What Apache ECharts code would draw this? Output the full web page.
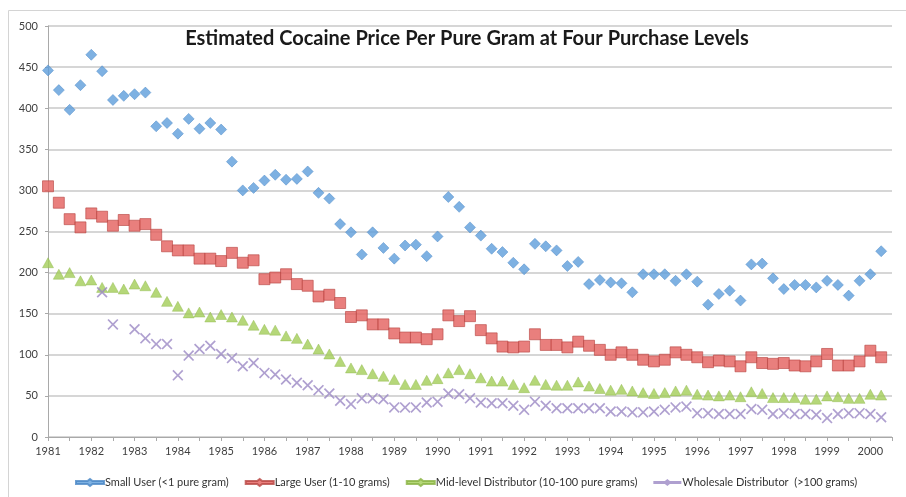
<!DOCTYPE html>
<html>
<head>
<meta charset="utf-8">
<script src="https://cdn.jsdelivr.net/npm/echarts@6/dist/echarts.min.js"></script>
<style>
  html, body { margin: 0; padding: 0; background: #fff; }
  #chart { width: 906px; height: 497px; }
</style>
</head>
<body>
<div id="chart"></div>
<script>
// Quarterly series, first quarter of 1981 through second quarter of 2000 (78 quarters)
const firstYear = 1981;
const seriesNames = [
  'Small User (<1 pure gram)',
  'Large User (1-10 grams)',
  'Mid-level Distributor (10-100 pure grams)',
  'Wholesale Distributor  (>100 grams)'
];

const smallUser = [
  446, 422, 398, 428, 465, 445, 410, 415, 417, 419,
  378, 382, 369, 387, 375, 382, 374, 335, 300, 303,
  312, 319, 313, 314, 323, 297, 290, 259, 249, 222,
  249, 230, 217, 233, 234, 220, 244, 292, 280, 255,
  245, 229, 225, 212, 204, 235, 232, 227, 208, 213,
  186, 191, 188, 187, 176, 198, 198, 198, 190, 198,
  189, 161, 174, 178, 166, 210, 211, 193, 180, 185,
  185, 182, 190, 185, 172, 190, 198, 226
];

const largeUser = [
  305, 285, 265, 255, 272, 268, 257, 264, 257, 259,
  246, 232, 227, 227, 217, 217, 214, 224, 212, 215,
  192, 194, 198, 186, 184, 171, 173, 163, 146, 148,
  137, 137, 126, 121, 121, 119, 125, 148, 141, 147,
  130, 120, 110, 109, 110, 125, 112, 112, 109, 116,
  111, 106, 100, 103, 100, 94, 92, 94, 103, 100,
  97, 91, 93, 92, 86, 97, 90, 89, 90, 87,
  86, 92, 101, 87, 87, 92, 105, 97
];

const midLevel = [
  212, 198, 200, 190, 191, 182, 182, 180, 186, 184,
  176, 165, 159, 151, 152, 146, 149, 146, 142, 136,
  131, 130, 123, 120, 113, 107, 101, 92, 84, 82,
  77, 74, 70, 64, 64, 69, 71, 78, 82, 77,
  72, 68, 68, 64, 60, 69, 64, 63, 63, 67,
  62, 59, 57, 58, 56, 54, 53, 54, 56, 57,
  52, 51, 50, 51, 49, 55, 53, 48, 48, 48,
  46, 46, 50, 49, 47, 47, 52, 51
];

const wholesale = [
  null, null, null, null, null, 176, 137, null, 131, 120,
  113, 113, 75, 99, 107, 111, 101, 96, 86, 90,
  78, 76, 70, 66, 63, 57, 53, 44, 40, 47,
  47, 46, 36, 36, 36, 42, 43, 53, 52, 47,
  42, 41, 41, 38, 33, 43, 38, 35, 35, 35,
  35, 35, 31, 31, 30, 30, 31, 33, 36, 37,
  29, 29, 28, 28, 28, 34, 33, 28, 29, 28,
  28, 27, 23, 28, 29, 29, 28, 24
];

// Pair each quarterly value with its position in years (quarter i -> firstYear + i/4)
function toPoints(values) {
  return values.map((v, i) => [firstYear + i / 4, v]);
}

const xMark = 'path://M0,1.1 L1.1,0 L5,3.9 L8.9,0 L10,1.1 L6.1,5 L10,8.9 L8.9,10 L5,6.1 L1.1,10 L0,8.9 L3.9,5 Z';
const legendIcon = 'path://M0,2.1 L11.5,2.1 L14,0 L16.5,2.1 L28,2.1 L28,4.9 L16.5,4.9 L14,7 L11.5,4.9 L0,4.9 Z';

const colors = ['#5e9ddb', '#e35f5c', '#a2cd58', '#9b88c4'];
const borders = ['#4a87c6', '#b84744', '#89b343', '#9b88c4'];

const chart = echarts.init(document.getElementById('chart'), null, { renderer: 'canvas' });

const fontFamily = 'Lato, "Noto Sans", sans-serif';

chart.setOption({
  animation: false,
  backgroundColor: '#ffffff',
  color: colors,
  textStyle: { fontFamily: fontFamily },
  graphic: [
    {
      type: 'rect',
      shape: { x: 8.5, y: 10.5, width: 1000, height: 1000 },
      style: { fill: 'none', stroke: '#d4d4d4', lineWidth: 1 },
      z: -10
    }
  ],
  title: {
    text: 'Estimated Cocaine Price Per Pure Gram at Four Purchase Levels',
    left: 462,
    top: 24,
    textAlign: 'center',
    textStyle: {
      fontFamily: fontFamily,
      fontWeight: 'bold',
      fontSize: 20,
      color: '#1a1a1a'
    }
  },
  grid: { left: 48, right: 14, top: 26, bottom: 60, containLabel: false },
  xAxis: {
    type: 'value',
    min: 1981,
    max: 2000.5,
    interval: 0.5,
    splitLine: { show: false },
    axisLine: { show: true, lineStyle: { color: '#a9a9a9', width: 1 } },
    axisTick: { show: true, length: 4, lineStyle: { color: '#a9a9a9' } },
    axisLabel: {
      color: '#404040',
      fontSize: 11,
      fontFamily: fontFamily,
      margin: 9,
      formatter: v => (Math.abs(v - Math.round(v)) < 1e-6 ? String(Math.round(v)) : '')
    }
  },
  yAxis: {
    type: 'value',
    min: 0,
    max: 500,
    interval: 50,
    splitLine: { show: true, lineStyle: { color: '#c8c8c8', width: 1.5 } },
    axisLine: { show: true, lineStyle: { color: '#a9a9a9', width: 1 } },
    axisTick: { show: true, length: 3, inside: false, lineStyle: { color: '#a9a9a9' } },
    axisLabel: { color: '#404040', fontSize: 11, fontFamily: fontFamily, margin: 10 }
  },
  legend: {
    left: 70,
    top: 472,
    itemWidth: 28,
    itemHeight: 7,
    itemGap: 16,
    textStyle: { color: '#333', fontSize: 11, fontFamily: fontFamily, padding: [0, 0, 0, -4] },
    data: seriesNames.map(n => ({ name: n, icon: legendIcon }))
  },
  series: [
    {
      name: seriesNames[0],
      type: 'scatter',
      symbol: 'diamond',
      symbolSize: [11, 11],
      itemStyle: { color: colors[0], borderColor: borders[0], borderWidth: 0.6 },
      data: toPoints(smallUser)
    },
    {
      name: seriesNames[1],
      type: 'scatter',
      symbol: 'rect',
      symbolSize: [11, 11],
      itemStyle: { color: colors[1], borderColor: borders[1], borderWidth: 0.8 },
      data: toPoints(largeUser)
    },
    {
      name: seriesNames[2],
      type: 'scatter',
      symbol: 'triangle',
      symbolSize: [11, 10],
      itemStyle: { color: colors[2], borderColor: borders[2], borderWidth: 0.5 },
      data: toPoints(midLevel)
    },
    {
      name: seriesNames[3],
      type: 'scatter',
      symbol: xMark,
      symbolSize: [11, 11],
      itemStyle: { color: colors[3] },
      data: toPoints(wholesale).filter(p => p[1] !== null)
    }
  ]
});
</script>
</body>
</html>
